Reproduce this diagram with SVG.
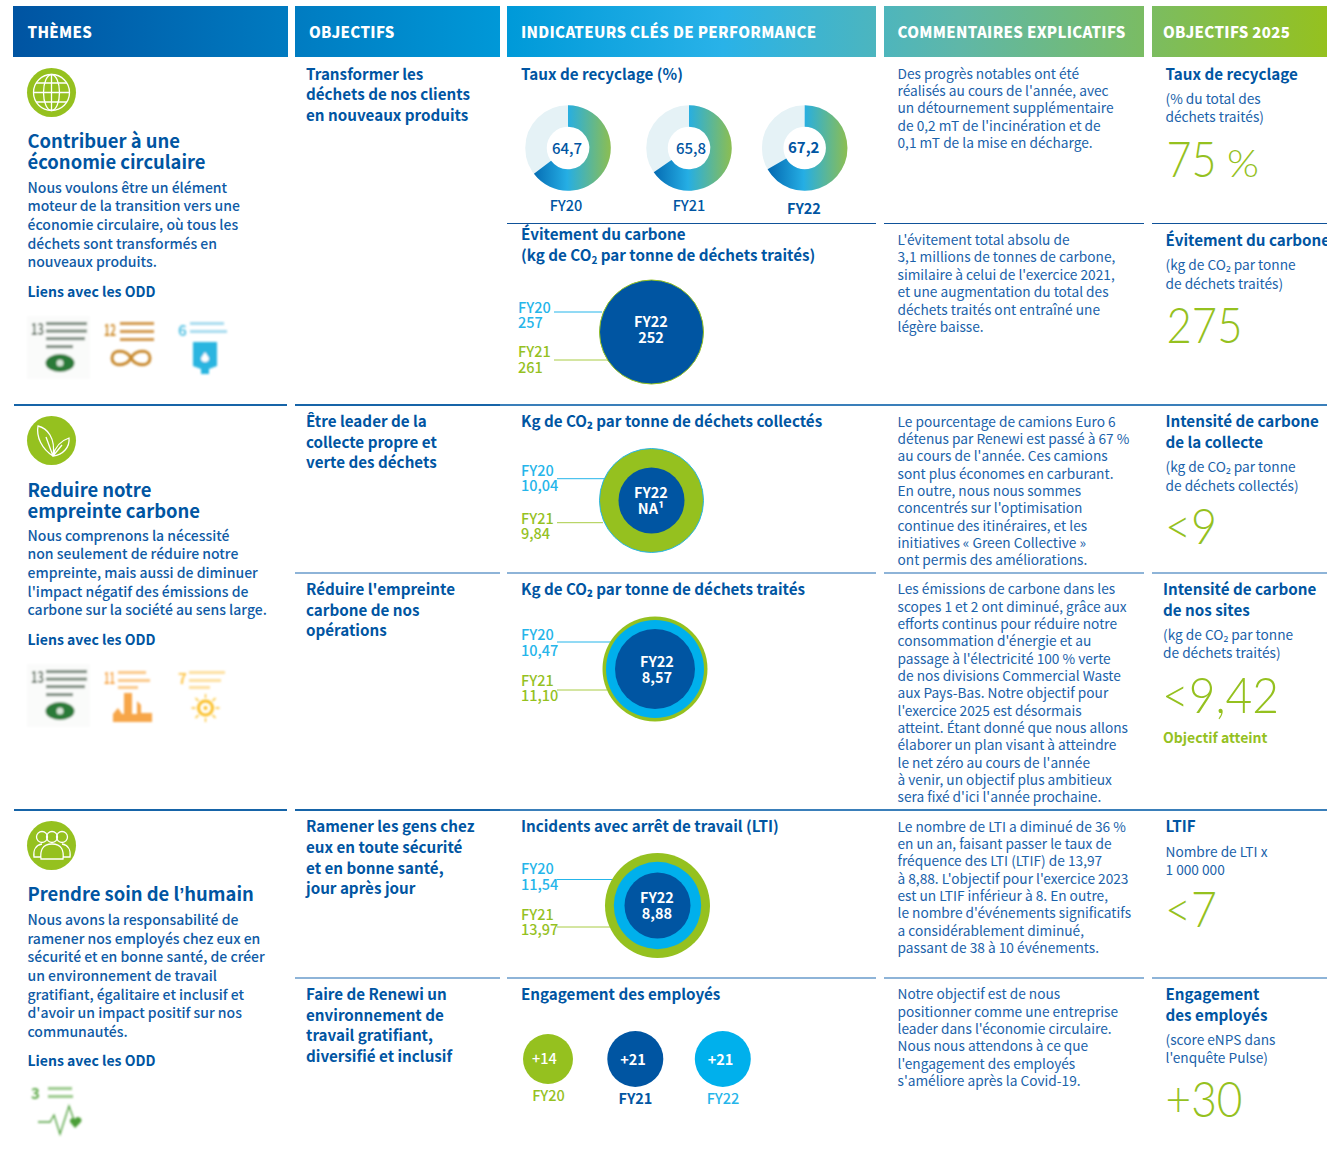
<svg xmlns="http://www.w3.org/2000/svg" width="1327" height="1165" viewBox="0 0 1327 1165">
<defs>
<style>
text{font-family:"Noto Sans CJK SC","Source Sans Pro","Noto Sans",sans-serif;fill:#0055a2;white-space:pre}
.hd{font-size:15px;font-weight:900;fill:#fff;letter-spacing:.3px}
.tt{font-size:18.4px;font-weight:700}
.b{font-size:14px;font-weight:500;fill:#0f5ba6}
.h{font-size:15.2px;font-weight:700}
.l{font-size:14px;font-weight:700}
.c{font-size:13.7px;font-weight:400;fill:#1a62aa}
.big{font-family:"Lato","Noto Sans",sans-serif;font-size:50px;font-weight:300;fill:#95c11f}
.g{font-size:14px;font-weight:700;fill:#95c11f}
.bl{font-size:14.5px;font-weight:500;fill:#25b5ea}
.gr{font-size:14.5px;font-weight:500;fill:#95c11f}
.w{font-size:14.5px;font-weight:700;fill:#fff;text-anchor:middle}
.d{font-size:15px;font-weight:500;text-anchor:middle}
.y{font-size:14.5px;font-weight:500;text-anchor:middle}
.sep1{stroke:#0f5299;stroke-width:1.200}
.sep{stroke:#3a7fba;stroke-width:1.800}
.sepl{stroke:#6a9ccb;stroke-width:1.600}
.sp2{stroke:#1664a8;stroke-width:2}
.ic{fill:none;stroke:#fff;stroke-width:1.300}
.lb{stroke:#25b5ea;stroke-width:1}
.lg{stroke:#a9cc45;stroke-width:1}
</style>
<linearGradient id="hg" gradientUnits="userSpaceOnUse" x1="13" y1="0" x2="1327" y2="0">
<stop offset="0" stop-color="#0054a2"/><stop offset=".38" stop-color="#009ad9"/><stop offset=".54" stop-color="#29b2e8"/><stop offset=".72" stop-color="#5fb7a8"/><stop offset="1" stop-color="#95c11f"/>
</linearGradient>
<linearGradient id="dg" gradientUnits="userSpaceOnUse" x1="-40" y1="0" x2="43" y2="0">
<stop offset="0" stop-color="#0062ac"/><stop offset=".47" stop-color="#25aee4"/><stop offset="1" stop-color="#8dbe50"/>
</linearGradient>
<filter id="bl" x="-10%" y="-10%" width="120%" height="120%"><feGaussianBlur stdDeviation=".8"/></filter>
<g id="sdg13"><rect x="27" y="0" width="63" height="63" fill="#fafbfa"/><text x="31" y="19" textLength="13" lengthAdjust="spacingAndGlyphs" style="font-size:16px;font-weight:700;fill:#5d6f5f">13</text><g fill="#7f8f81"><rect x="46" y="6" width="41" height="3.200"/><rect x="46" y="13.500" width="41" height="3.200"/><rect x="46" y="21" width="39" height="3.200"/><rect x="46" y="29" width="27" height="3.200"/></g><ellipse cx="60" cy="47" rx="14.500" ry="9" fill="#2a7a38"/><circle cx="60" cy="47" r="3.500" fill="#d8e6d8"/></g>
</defs>
<rect width="1327" height="1165" fill="#fff"/>

<g id="headers">
<g id="h-themes"><rect x="13" y="6" width="275" height="51" fill="url(#hg)"/><text class="hd" x="27.500" y="38">THÈMES</text></g>
<g id="h-objectifs"><rect x="295" y="6" width="205" height="51" fill="url(#hg)"/><text class="hd" x="309" y="38">OBJECTIFS</text></g>
<g id="h-kpi"><rect x="507" y="6" width="369" height="51" fill="url(#hg)"/><text class="hd" x="521" y="38">INDICATEURS CLÉS DE PERFORMANCE</text></g>
<g id="h-comm"><rect x="884" y="6" width="260" height="51" fill="url(#hg)"/><text class="hd" x="897.500" y="38">COMMENTAIRES EXPLICATIFS</text></g>
<g id="h-2025"><rect x="1152" y="6" width="175" height="51" fill="url(#hg)"/><text class="hd" x="1163" y="38">OBJECTIFS 2025</text></g>
</g>

<g id="connectors">
<path class="sep1" d="M507 223.500H876M884 223.500H1144M1152 223.500H1327"/>
<path class="sp2" d="M14 405H287M295 405H500"/><path class="sep" d="M500 405H1327"/>
<path class="sepl" d="M295 573H500M507 573H876M884 573H1144M1152 573H1327"/>
<path class="sp2" d="M14 810H287M295 810H500"/><path class="sep" d="M500 810H1327"/>
<path class="sepl" d="M295 978H500M507 978H876M884 978H1144M1152 978H1327"/>
<line class="lb" x1="554" y1="312" x2="602" y2="312"/><line class="lg" x1="554" y1="360" x2="608" y2="360"/>
<line class="lb" x1="557" y1="478.700" x2="605" y2="478.700"/><line class="lg" x1="557" y1="522.700" x2="603" y2="522.700"/>
<line class="lb" x1="557" y1="642" x2="612" y2="642"/><line class="lg" x1="557" y1="690" x2="607" y2="690"/>
<line class="lb" x1="557" y1="879.500" x2="622" y2="879.500"/><line class="lg" x1="557" y1="927" x2="610" y2="927"/>
</g>

<g id="theme-1">
<circle cx="51.500" cy="92.500" r="24.500" fill="#95c11f"/>
<g class="ic"><circle cx="51.500" cy="92.500" r="18"/><ellipse cx="51.500" cy="92.500" rx="8" ry="18"/><path d="M51.500 74.500V110.500M33.500 92.500H69.500M36 83H67M36 102H67"/></g>
<text class="tt" x="27.500" y="148">Contribuer à une</text><text class="tt" x="27.500" y="169">économie circulaire</text>
<text class="b" x="27.500" y="193">Nous voulons être un élément</text><text class="b" x="27.500" y="211">moteur de la transition vers une</text><text class="b" x="27.500" y="230">économie circulaire, où tous les</text><text class="b" x="27.500" y="249">déchets sont transformés en</text><text class="b" x="27.500" y="267">nouveaux produits.</text>
<text class="l" x="27.500" y="297">Liens avec les ODD</text>
<g filter="url(#bl)">
<use href="#sdg13" y="316"/>
<text x="104" y="336" textLength="12" lengthAdjust="spacingAndGlyphs" style="font-size:16px;font-weight:700;fill:#cf8d2e">12</text>
<g fill="#d39a50"><rect x="120" y="322" width="34" height="3"/><rect x="120" y="330" width="34" height="3"/><rect x="120" y="338" width="34" height="3"/></g>
<path d="M131 358c-5-9-19-9-19 0s14 9 19 0 19-9 19 0-14 9-19 0z" fill="none" stroke="#c8892f" stroke-width="3"/>
<text x="178" y="336" style="font-size:15px;font-weight:700;fill:#5cc4e4">6</text>
<g fill="#a8dcef"><rect x="190" y="322" width="34" height="3"/><rect x="190" y="330" width="37" height="3"/></g>
<path d="M193 342h24v24l-8 3v5h-8v-5l-8-3z" fill="#2cb5e0"/><path d="M205 352l4 6a4 4 0 1 1-8 0z" fill="#fff"/>
</g>
</g>

<g id="theme-2">
<circle cx="51.500" cy="440.500" r="24.500" fill="#95c11f"/>
<g class="ic"><path d="M53 456C42 449 36 437 38 426C47 428 56 438 53 456ZM53 456C55 447 60 441 69 438C70 447 63 455 53 456ZM46 437L53 456M62 445L53 456"/></g>
<text class="tt" x="27.500" y="496.500">Reduire notre</text><text class="tt" x="27.500" y="517.500">empreinte carbone</text>
<text class="b" x="27.500" y="541">Nous comprenons la nécessité</text><text class="b" x="27.500" y="559">non seulement de réduire notre</text><text class="b" x="27.500" y="578">empreinte, mais aussi de diminuer</text><text class="b" x="27.500" y="597">l'impact négatif des émissions de</text><text class="b" x="27.500" y="615">carbone sur la société au sens large.</text>
<text class="l" x="27.500" y="645">Liens avec les ODD</text>
<g filter="url(#bl)">
<use href="#sdg13" y="664"/>
<text x="104" y="684" textLength="11" lengthAdjust="spacingAndGlyphs" style="font-size:16px;font-weight:700;fill:#f7a64a">11</text>
<g fill="#fbc98a"><rect x="118" y="671" width="28" height="3"/><rect x="118" y="679" width="32" height="3"/><rect x="118" y="686" width="20" height="3"/></g>
<path d="M113 722v-8l5-6 4 6h2v-21h8v21h5v-13l4 4v8h11v9z" fill="#f7a64a"/>
<text x="178" y="684" style="font-size:15px;font-weight:700;fill:#fdc54a">7</text>
<g fill="#fde0a0"><rect x="189" y="671" width="36" height="3"/><rect x="189" y="679" width="32" height="3"/><rect x="189" y="686" width="21" height="3"/></g>
<circle cx="205.500" cy="708" r="7" fill="none" stroke="#fbbf26" stroke-width="3"/><circle cx="205.500" cy="708" r="2" fill="#fbbf26"/>
<path d="M205.500 694v4M205.500 718v4M191.500 708h4M215.500 708h4M195.500 698l3 3M212.500 715l3 3M215.500 698l-3 3M198.500 715l-3 3" stroke="#fbbf26" stroke-width="1.300"/>
</g>
</g>

<g id="theme-3">
<circle cx="51.500" cy="845.500" r="24.500" fill="#95c11f"/>
<g class="ic"><circle cx="42" cy="837" r="5.500"/><circle cx="52" cy="837" r="5.500"/><circle cx="62" cy="837" r="5.500"/><path d="M41 859C40 851 42 844 52 844C62 844 64 851 63 859ZM41 857H34C33 850 36 845 42 844M63 857H70C71 850 68 845 62 844"/></g>
<text class="tt" x="27.500" y="901">Prendre soin de l<tspan style="font-family:'Liberation Sans',sans-serif">’</tspan>humain</text>
<text class="b" x="27.500" y="925">Nous avons la responsabilité de</text><text class="b" x="27.500" y="944">ramener nos employés chez eux en</text><text class="b" x="27.500" y="962">sécurité et en bonne santé, de créer</text><text class="b" x="27.500" y="981">un environnement de travail</text><text class="b" x="27.500" y="1000">gratifiant, égalitaire et inclusif et</text><text class="b" x="27.500" y="1018">d'avoir un impact positif sur nos</text><text class="b" x="27.500" y="1037">communautés.</text>
<text class="l" x="27.500" y="1066">Liens avec les ODD</text>
<g filter="url(#bl)">
<text x="31" y="1099" style="font-size:15px;font-weight:700;fill:#5aa845">3</text>
<g fill="#9ccb8e"><rect x="48" y="1087" width="24" height="3"/><rect x="48" y="1095" width="25" height="3"/></g>
<path d="M38 1122H50L54 1115L60 1134L69 1106L74 1120" fill="none" stroke="#4c9f38" stroke-width="1.300"/>
<path d="M75 1128L70 1122a3 3 0 0 1 5-3a3 3 0 0 1 6 3z" fill="#4c9f38"/>
</g>
</g>

<g id="objectives">
<text class="h" x="306" y="80">Transformer les</text><text class="h" x="306" y="100">déchets de nos clients</text><text class="h" x="306" y="121">en nouveaux produits</text>
<text class="h" x="306" y="427">Être leader de la</text><text class="h" x="306" y="448">collecte propre et</text><text class="h" x="306" y="468">verte des déchets</text>
<text class="h" x="306" y="595">Réduire l'empreinte</text><text class="h" x="306" y="616">carbone de nos</text><text class="h" x="306" y="636">opérations</text>
<text class="h" x="306" y="832">Ramener les gens chez</text><text class="h" x="306" y="853">eux en toute sécurité</text><text class="h" x="306" y="874">et en bonne santé,</text><text class="h" x="306" y="894">jour après jour</text>
<text class="h" x="306" y="1000">Faire de Renewi un</text><text class="h" x="306" y="1021">environnement de</text><text class="h" x="306" y="1041">travail gratifiant,</text><text class="h" x="306" y="1062">diversifié et inclusif</text>
</g>

<g id="kpi-recyclage">
<text class="h" x="521" y="80">Taux de recyclage (%)</text>
<g transform="translate(568 148)"><circle r="32" fill="none" stroke="#e5f2f6" stroke-width="21.500"/><path d="M0-32A32 32 0 1 1-25.500 19.300" fill="none" stroke="url(#dg)" stroke-width="21.500"/><text class="d" x="-1" y="5.500">64,7</text></g>
<g transform="translate(689 148)"><circle r="32" fill="none" stroke="#e5f2f6" stroke-width="21.500"/><path d="M0-32A32 32 0 1 1-26.400 18.100" fill="none" stroke="url(#dg)" stroke-width="21.500"/><text class="d" x="2" y="5.500">65,8</text></g>
<g transform="translate(804.700 148)"><circle r="32" fill="none" stroke="#e5f2f6" stroke-width="21.500"/><path d="M0-32A32 32 0 1 1-27.800 15.900" fill="none" stroke="url(#dg)" stroke-width="21.500"/><text class="d" x="-1" y="4.500" style="font-weight:700">67,2</text></g>
<text class="y" x="566" y="211">FY20</text><text class="y" x="689" y="211">FY21</text><text class="y" x="804" y="214" style="font-weight:700">FY22</text>
</g>

<g id="kpi-evitement">
<text class="h" x="521" y="240">Évitement du carbone</text><text class="h" x="521" y="261">(kg de CO<tspan font-size="10" dy="3">2</tspan><tspan dy="-3"> par tonne de déchets traités)</tspan></text>
<circle cx="651.500" cy="332" r="52" fill="#0055a2" stroke="#95c11f" stroke-width="1"/>
<text class="w" x="651" y="327">FY22</text><text class="w" x="651" y="343">252</text>
<text class="bl" x="518" y="313">FY20</text><text class="bl" x="518" y="328">257</text><text class="gr" x="518" y="357">FY21</text><text class="gr" x="518" y="373">261</text>
</g>

<g id="kpi-collecte">
<text class="h" x="521" y="427">Kg de CO₂ par tonne de déchets collectés</text>
<circle cx="651.500" cy="500.500" r="52" fill="#95c11f" stroke="#25b5ea" stroke-width="1"/><circle cx="651.500" cy="500.500" r="33" fill="#0055a2"/>
<text class="w" x="651" y="498">FY22</text><text class="w" x="651" y="514">NA¹</text>
<text class="bl" x="521" y="476">FY20</text><text class="bl" x="521" y="491">10,04</text><text class="gr" x="521" y="524">FY21</text><text class="gr" x="521" y="539">9,84</text>
</g>

<g id="kpi-traites">
<text class="h" x="521" y="595">Kg de CO₂ par tonne de déchets traités</text>
<circle cx="655" cy="669" r="52.500" fill="#95c11f"/><circle cx="655" cy="669" r="49" fill="#00b0ec"/><circle cx="655" cy="669" r="40" fill="#0055a2"/>
<text class="w" x="657" y="667">FY22</text><text class="w" x="657" y="683">8,57</text>
<text class="bl" x="521" y="640">FY20</text><text class="bl" x="521" y="656">10,47</text><text class="gr" x="521" y="686">FY21</text><text class="gr" x="521" y="701">11,10</text>
</g>

<g id="kpi-lti">
<text class="h" x="521" y="832">Incidents avec arrêt de travail (LTI)</text>
<circle cx="657.500" cy="905.500" r="52.500" fill="#95c11f"/><circle cx="657.500" cy="905.500" r="43.700" fill="#00b0ec"/><circle cx="657.500" cy="905.500" r="33" fill="#0055a2"/>
<text class="w" x="657" y="903">FY22</text><text class="w" x="657" y="919">8,88</text>
<text class="bl" x="521" y="874">FY20</text><text class="bl" x="521" y="890">11,54</text><text class="gr" x="521" y="920">FY21</text><text class="gr" x="521" y="935">13,97</text>
</g>

<g id="kpi-engagement">
<text class="h" x="521" y="1000">Engagement des employés</text>
<circle cx="548" cy="1059" r="25" fill="#95c11f"/><text class="w" x="544.500" y="1064" style="font-weight:500">+14</text>
<circle cx="635.300" cy="1059" r="28" fill="#0055a2"/><text class="w" x="633" y="1065">+21</text>
<circle cx="722.800" cy="1059" r="28" fill="#00b0ec"/><text class="w" x="720.500" y="1065">+21</text>
<text class="y" x="548.500" y="1101" style="fill:#95c11f">FY20</text><text class="y" x="635.500" y="1104" style="font-weight:700">FY21</text><text class="y" x="723" y="1104" style="fill:#25b5ea">FY22</text>
</g>

<g id="comments">
<text class="c" x="897.500" y="79">Des progrès notables ont été</text><text class="c" x="897.500" y="96">réalisés au cours de l'année, avec</text><text class="c" x="897.500" y="113">un détournement supplémentaire</text><text class="c" x="897.500" y="131">de 0,2 mT de l'incinération et de</text><text class="c" x="897.500" y="148">0,1 mT de la mise en décharge.</text>
<text class="c" x="897.500" y="245">L'évitement total absolu de</text><text class="c" x="897.500" y="262">3,1 millions de tonnes de carbone,</text><text class="c" x="897.500" y="280">similaire à celui de l'exercice 2021,</text><text class="c" x="897.500" y="297">et une augmentation du total des</text><text class="c" x="897.500" y="315">déchets traités ont entraîné une</text><text class="c" x="897.500" y="332">légère baisse.</text>
<text class="c" x="897.500" y="427">Le pourcentage de camions Euro 6</text><text class="c" x="897.500" y="444">détenus par Renewi est passé à 67 %</text><text class="c" x="897.500" y="461">au cours de l'année. Ces camions</text><text class="c" x="897.500" y="479">sont plus économes en carburant.</text><text class="c" x="897.500" y="496">En outre, nous nous sommes</text><text class="c" x="897.500" y="513">concentrés sur l'optimisation</text><text class="c" x="897.500" y="531">continue des itinéraires, et les</text><text class="c" x="897.500" y="548">initiatives « Green Collective »</text><text class="c" x="897.500" y="565">ont permis des améliorations.</text>
<text class="c" x="897.500" y="594">Les émissions de carbone dans les</text><text class="c" x="897.500" y="612">scopes 1 et 2 ont diminué, grâce aux</text><text class="c" x="897.500" y="629">efforts continus pour réduire notre</text><text class="c" x="897.500" y="646">consommation d'énergie et au</text><text class="c" x="897.500" y="664">passage à l'électricité 100 % verte</text><text class="c" x="897.500" y="681">de nos divisions Commercial Waste</text><text class="c" x="897.500" y="698">aux Pays-Bas. Notre objectif pour</text><text class="c" x="897.500" y="716">l'exercice 2025 est désormais</text><text class="c" x="897.500" y="733">atteint. Étant donné que nous allons</text><text class="c" x="897.500" y="750">élaborer un plan visant à atteindre</text><text class="c" x="897.500" y="768">le net zéro au cours de l'année</text><text class="c" x="897.500" y="785">à venir, un objectif plus ambitieux</text><text class="c" x="897.500" y="802">sera fixé d'ici l'année prochaine.</text>
<text class="c" x="897.500" y="832">Le nombre de LTI a diminué de 36 %</text><text class="c" x="897.500" y="849">en un an, faisant passer le taux de</text><text class="c" x="897.500" y="866">fréquence des LTI (LTIF) de 13,97</text><text class="c" x="897.500" y="884">à 8,88. L'objectif pour l'exercice 2023</text><text class="c" x="897.500" y="901">est un LTIF inférieur à 8. En outre,</text><text class="c" x="897.500" y="918">le nombre d'événements significatifs</text><text class="c" x="897.500" y="936">a considérablement diminué,</text><text class="c" x="897.500" y="953">passant de 38 à 10 événements.</text>
<text class="c" x="897.500" y="999">Notre objectif est de nous</text><text class="c" x="897.500" y="1017">positionner comme une entreprise</text><text class="c" x="897.500" y="1034">leader dans l'économie circulaire.</text><text class="c" x="897.500" y="1051">Nous nous attendons à ce que</text><text class="c" x="897.500" y="1069">l'engagement des employés</text><text class="c" x="897.500" y="1086">s'améliore après la Covid-19.</text>
</g>

<g id="targets">
<text class="h" x="1165.500" y="80">Taux de recyclage</text><text class="c" x="1165.500" y="104">(% du total des</text><text class="c" x="1165.500" y="122">déchets traités)</text>
<text class="big" x="1166.500" y="177" textLength="50" lengthAdjust="spacingAndGlyphs">75</text><text class="big" x="1227" y="177" font-size="37" style="font-size:37px" textLength="32" lengthAdjust="spacingAndGlyphs">%</text>
<text class="h" x="1165.500" y="246">Évitement du carbone</text><text class="c" x="1165.500" y="270">(kg de CO₂ par tonne</text><text class="c" x="1165.500" y="289">de déchets traités)</text>
<text class="big" x="1166.500" y="343" textLength="76" lengthAdjust="spacingAndGlyphs">275</text>
<text class="h" x="1165.500" y="427">Intensité de carbone</text><text class="h" x="1165.500" y="448">de la collecte</text><text class="c" x="1165.500" y="472">(kg de CO₂ par tonne</text><text class="c" x="1165.500" y="491">de déchets collectés)</text>
<text class="big" x="1165" y="544" textLength="52" lengthAdjust="spacingAndGlyphs">&lt;9</text>
<text class="h" x="1163" y="595">Intensité de carbone</text><text class="h" x="1163" y="616">de nos sites</text><text class="c" x="1163" y="640">(kg de CO₂ par tonne</text><text class="c" x="1163" y="658">de déchets traités)</text>
<text class="big" x="1162" y="713" textLength="117" lengthAdjust="spacingAndGlyphs">&lt;9,42</text>
<text class="g" x="1163" y="743">Objectif atteint</text>
<text class="h" x="1165.500" y="832">LTIF</text><text class="c" x="1165.500" y="857">Nombre de LTI x</text><text class="c" x="1165.500" y="875">1 000 000</text>
<text class="big" x="1165" y="927" textLength="52" lengthAdjust="spacingAndGlyphs">&lt;7</text>
<text class="h" x="1165.500" y="1000">Engagement</text><text class="h" x="1165.500" y="1021">des employés</text><text class="c" x="1165.500" y="1045">(score eNPS dans</text><text class="c" x="1165.500" y="1063">l'enquête Pulse)</text>
<text class="big" x="1165.500" y="1117" textLength="77" lengthAdjust="spacingAndGlyphs">+30</text>
</g>
</svg>
